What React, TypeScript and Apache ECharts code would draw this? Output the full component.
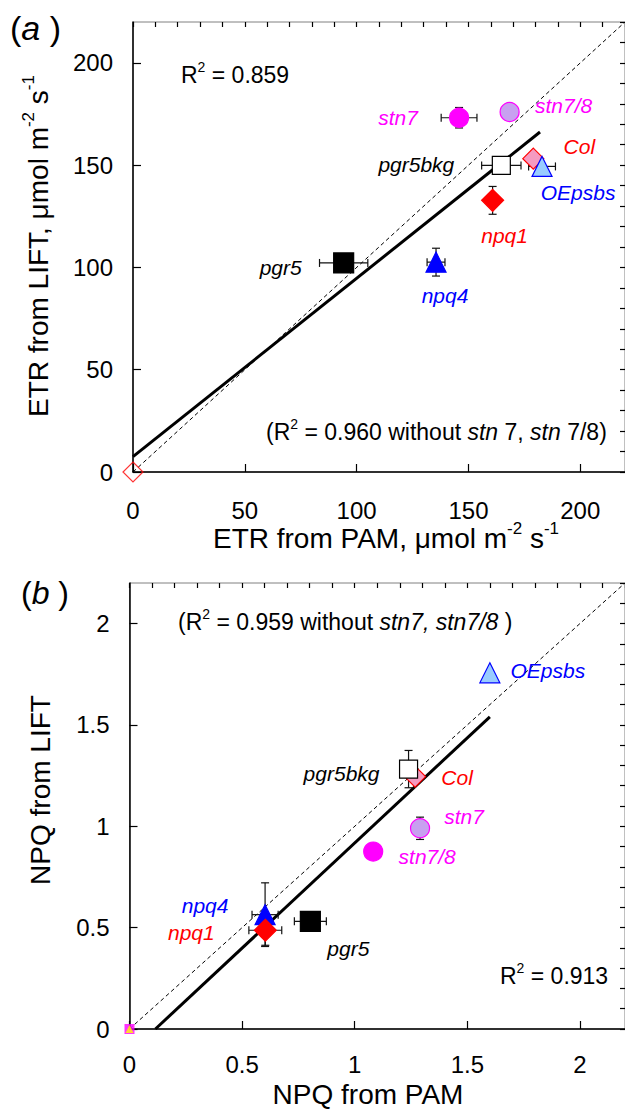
import React, { useEffect, useRef } from "react";
import * as echarts from "echarts";

// ---------- Panel (a): ETR ----------
const etrNames = ["pgr5", "npq4", "npq1", "pgr5bkg", "Col", "OEpsbs", "stn7", "stn7/8"];
const etrPam = [94.2, 135.5, 160.8, 164.7, 179.0, 182.9, 145.8, 168.4];
const etrLift = [102.2, 102.6, 132.8, 149.9, 153.2, 149.4, 173.2, 176.0];
const etrPamErr = [10.8, 4, 0, 8.8, 0, 6, 8, 0];
const etrLiftErr = [0, 6.8, 6.8, 0, 0, 0, 5, 0];
const etrControl = [0, 0];
const etrFit = [[0, 7.5], [182, 166.2]];
const etrIdentity = [[0, 0], [220, 220]];
const etrTicks = { min: 0, max: 220, major: 50, minor: 10 };

// ---------- Panel (b): NPQ ----------
const npqNames = ["pgr5", "npq4", "npq1", "stn7/8", "stn7", "Col", "pgr5bkg", "OEpsbs"];
const npqPam = [0.803, 0.602, 0.603, 1.082, 1.29, 1.268, 1.239, 1.6];
const npqLift = [0.531, 0.564, 0.487, 0.875, 0.99, 1.245, 1.282, 1.757];
const npqPamErr = [0.071, 0.058, 0.073, 0, 0, 0, 0, 0];
const npqLiftErr = [0, 0.157, 0.074, 0, 0.055, 0, 0.092, 0];
const npqControl = [0, 0];
const npqFit = [[0.115, 0], [1.6, 1.54]];
const npqIdentity = [[0, 0], [2.2, 2.2]];
const npqTicks = { min: 0, max: 2.2, major: 0.5, minor: 0.1 };

const FONT = "'Liberation Sans', Arial, Helvetica, sans-serif";

const MAG = "#ff00ff";
const LPURPLE = "#c8a0f0";
const RED = "#ff0000";
const BLUE = "#0000ff";

const etrStyle: any = {
  stn7: { symbol: "circle", fill: MAG, stroke: MAG, size: 19, text: MAG },
  "stn7/8": { symbol: "circle", fill: LPURPLE, stroke: MAG, size: 19, text: MAG },
  pgr5bkg: { symbol: "rect", fill: "#ffffff", stroke: "#000000", size: 18, text: "#000000" },
  Col: { symbol: "diamond", fill: "#f59ac0", stroke: RED, size: 21, text: RED },
  OEpsbs: { symbol: "triangle", fill: "#99ccff", stroke: BLUE, size: 20, text: BLUE },
  npq1: { symbol: "diamond", fill: RED, stroke: RED, size: 22, text: RED },
  npq4: { symbol: "triangle", fill: BLUE, stroke: BLUE, size: 20, text: BLUE },
  pgr5: { symbol: "rect", fill: "#000000", stroke: "#000000", size: 20, text: "#000000" },
};
const npqStyle: any = {
  ...etrStyle,
  stn7: { symbol: "circle", fill: LPURPLE, stroke: MAG, size: 19, text: MAG },
  "stn7/8": { symbol: "circle", fill: MAG, stroke: MAG, size: 19, text: MAG },
};

const etrLabelOffset: any = {
  stn7: [-61, 0],
  "stn7/8": [54, -7],
  pgr5bkg: [-85, -1],
  Col: [46, -12],
  OEpsbs: [36, 26],
  npq1: [12, 35],
  npq4: [9, 33],
  pgr5: [-63, 5],
};
const npqLabelOffset: any = {
  OEpsbs: [58, -2],
  pgr5bkg: [-67, 4],
  Col: [42, 1],
  stn7: [44, -12],
  "stn7/8": [54, 5],
  npq4: [-60, -9],
  npq1: [-74, 2],
  pgr5: [38, 27],
};

function pointSeries(names: string[], xs: number[], ys: number[], style: any, offsets: any, xi: number, yi: number) {
  return names.map((n, i) => {
    const s = style[n];
    return {
      type: "scatter",
      xAxisIndex: xi,
      yAxisIndex: yi,
      z: 4,
      symbol: s.symbol,
      symbolSize: s.size,
      itemStyle: { color: s.fill, borderColor: s.stroke, borderWidth: 1.2, opacity: 1 },
      label: {
        show: true,
        position: "inside",
        offset: offsets[n],
        formatter: n,
        color: s.text,
        fontSize: 21,
        fontStyle: "italic",
        fontFamily: FONT,
      },
      emphasis: { disabled: true },
      data: [[xs[i], ys[i]]],
    };
  });
}

function errorSeries(xs: number[], ys: number[], ex: number[], ey: number[], xi: number, yi: number) {
  return {
    type: "custom",
    xAxisIndex: xi,
    yAxisIndex: yi,
    z: 3,
    silent: true,
    clip: false,
    encode: { x: 0, y: 1 },
    data: xs.map((x, i) => [x, ys[i], ex[i], ey[i]]),
    renderItem: (_p: any, api: any) => {
      const x = api.value(0), y = api.value(1), dx = api.value(2), dy = api.value(3);
      const st = { stroke: "#111", lineWidth: 1.2 };
      const cap = 4;
      const ch: any[] = [];
      const seg = (x1: number, y1: number, x2: number, y2: number) =>
        ch.push({ type: "line", shape: { x1, y1, x2, y2 }, style: st });
      if (dx > 0) {
        const a = api.coord([x - dx, y]);
        const b = api.coord([x + dx, y]);
        seg(a[0], a[1], b[0], b[1]);
        seg(a[0], a[1] - cap, a[0], a[1] + cap);
        seg(b[0], b[1] - cap, b[0], b[1] + cap);
      }
      if (dy > 0) {
        const a = api.coord([x, y - dy]);
        const b = api.coord([x, y + dy]);
        seg(a[0], a[1], b[0], b[1]);
        seg(a[0] - cap, a[1], a[0] + cap, a[1]);
        seg(b[0] - cap, b[1], b[0] + cap, b[1]);
      }
      return { type: "group", children: ch };
    },
  };
}

function lineSeries(data: number[][], xi: number, yi: number, width: number, dashed: boolean) {
  return {
    type: "line",
    xAxisIndex: xi,
    yAxisIndex: yi,
    z: 2,
    silent: true,
    symbol: "none",
    data,
    lineStyle: { color: "#000", width, type: dashed ? [4, 3] : "solid" },
  };
}

function axisPair(kind: "x" | "y", grid: number, t: any, margin: number) {
  const common = { type: "value", gridIndex: grid, min: t.min, max: t.max, splitLine: { show: false } };
  const major = {
    ...common,
    interval: t.major,
    axisLine: { show: true, onZero: false, lineStyle: { color: "#000", width: 1.5 } },
    axisTick: { show: true, inside: true, length: 8, lineStyle: { color: "#000", width: 1.2 } },
    axisLabel: {
      show: true,
      showMaxLabel: false,
      color: "#000",
      fontSize: 24,
      fontFamily: FONT,
      margin,
    },
  };
  const minor = {
    ...common,
    interval: t.minor,
    axisLine: { show: false, onZero: false },
    axisTick: { show: true, inside: true, length: 5, lineStyle: { color: "#000", width: 1.2 } },
    axisLabel: { show: false },
  };
  return [major, minor];
}

const sup = (fs: number) => ({ fontSize: fs, fontFamily: FONT, color: "#000", verticalAlign: "top", lineHeight: fs });

function text(x: number, y: number, str: string, fs: number, align: string, rotation = 0) {
  return {
    type: "text",
    x,
    y,
    rotation,
    z: 10,
    style: {
      text: str,
      align,
      verticalAlign: "middle",
      textAlign: align,
      textVerticalAlign: "middle",
      fill: "#000",
      fontSize: fs,
      fontFamily: FONT,
      rich: {
        n: { fontSize: fs, fontFamily: FONT, color: "#000", lineHeight: fs * 1.3 },
        i: { fontSize: fs, fontFamily: FONT, fontStyle: "italic", color: "#000", lineHeight: fs * 1.3 },
        s: sup(Math.round(fs * 0.62)),
      },
    },
  };
}

export default function App() {
  const ref = useRef<HTMLDivElement>(null);
  useEffect(() => {
    document.body.style.margin = "0";
    if (!ref.current) return;
    const chart = echarts.init(ref.current, null, { renderer: "svg" });
    const [ex0, ex1] = axisPair("x", 0, etrTicks, 26);
    const [ey0, ey1] = axisPair("y", 0, etrTicks, 20);
    const [nx0, nx1] = axisPair("x", 1, npqTicks, 23);
    const [ny0, ny1] = axisPair("y", 1, npqTicks, 20);
    const gridBase = { show: true, borderColor: "#808080", borderWidth: 1, backgroundColor: "transparent", containLabel: false };
    chart.setOption({
      animation: false,
      backgroundColor: "#ffffff",
      grid: [
        { ...gridBase, left: 133, top: 22, width: 497.5, height: 450 },
        { ...gridBase, left: 129.5, top: 583, width: 502, height: 446 },
      ],
      xAxis: [ex0, ex1, nx0, nx1],
      yAxis: [ey0, ey1, ny0, ny1],
      series: [
        lineSeries(etrIdentity, 0, 0, 1, true),
        lineSeries(etrFit, 0, 0, 3, false),
        errorSeries(etrPam, etrLift, etrPamErr, etrLiftErr, 0, 0),
        {
          type: "scatter", xAxisIndex: 0, yAxisIndex: 0, z: 4, symbol: "diamond", symbolSize: 20,
          itemStyle: { color: "rgba(255,255,255,0)", borderColor: RED, borderWidth: 1.2 },
          data: [etrControl], silent: true,
        },
        ...pointSeries(etrNames, etrPam, etrLift, etrStyle, etrLabelOffset, 0, 0),

        lineSeries(npqIdentity, 2, 2, 1, true),
        lineSeries(npqFit, 2, 2, 3, false),
        errorSeries(npqPam, npqLift, npqPamErr, npqLiftErr, 2, 2),
        {
          type: "scatter", xAxisIndex: 2, yAxisIndex: 2, z: 4, symbol: "rect", symbolSize: 10,
          itemStyle: { color: MAG }, data: [npqControl], silent: true,
        },
        {
          type: "scatter", xAxisIndex: 2, yAxisIndex: 2, z: 4, symbol: "triangle", symbolSize: 8,
          itemStyle: { color: "#ffff00" }, data: [npqControl], silent: true,
        },
        ...pointSeries(npqNames, npqPam, npqLift, npqStyle, npqLabelOffset, 2, 2),
      ],
      graphic: [
        text(10, 28, "{n|(}{i|a}{n| )}", 34, "left"),
        text(21, 593, "{n|(}{i|b}{n| )}", 32, "left"),
        text(181, 75, "{n|R}{s|2}{n| = 0.859}", 23, "left"),
        text(266, 432, "{n|(R}{s|2}{n| = 0.960 without }{i|stn}{n| 7, }{i|stn}{n| 7/8)}", 23, "left"),
        text(178, 622, "{n|(R}{s|2}{n| = 0.959 without }{i|stn7, stn7/8}{n| )}", 23, "left"),
        text(500, 976, "{n|R}{s|2}{n| = 0.913}", 23, "left"),
        text(386, 538, "{n|ETR from PAM, μmol m}{s|-2}{n| s}{s|-1}", 28, "center"),
        text(368, 1094, "{n|NPQ from PAM}", 28, "center"),
        text(38, 246, "{n|ETR from LIFT, μmol m}{s|-2}{n| s}{s|-1}", 28, "center", Math.PI / 2),
        text(40, 790, "{n|NPQ from LIFT}", 28, "center", Math.PI / 2),
      ],
    });
    return () => chart.dispose();
  }, []);
  return <div ref={ref} style={{ width: 625, height: 1109 }} />;
}
